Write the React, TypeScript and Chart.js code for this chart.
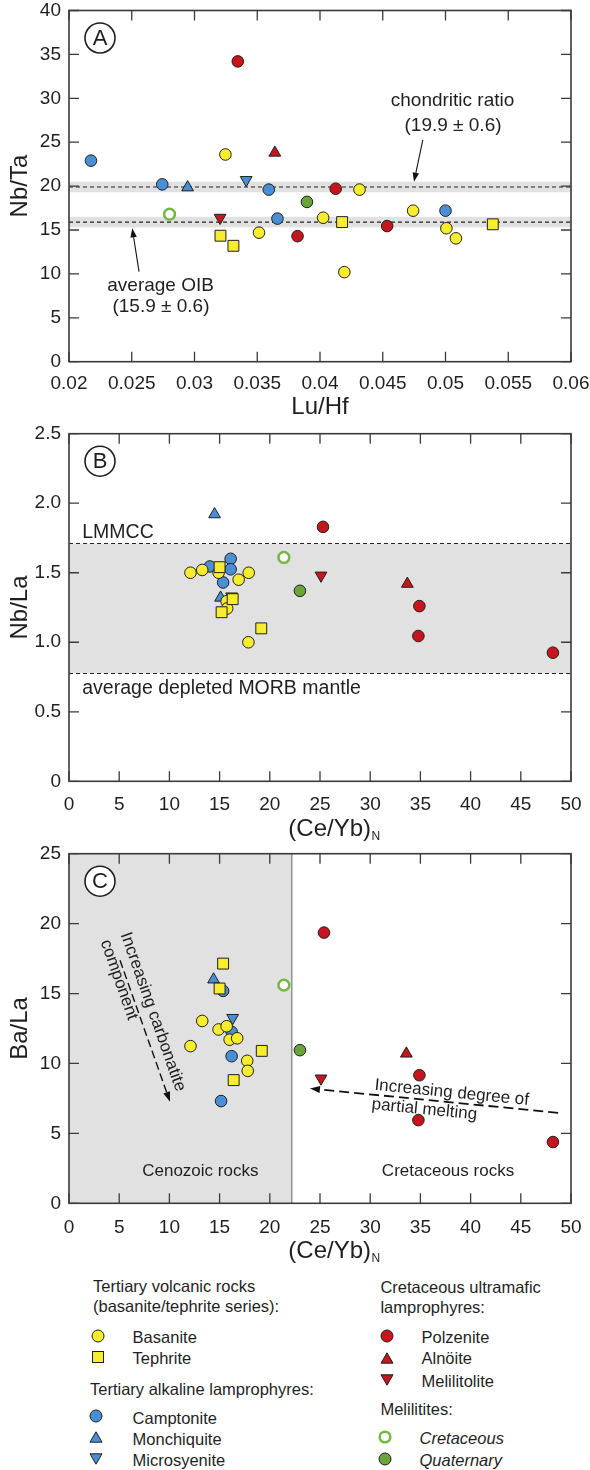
import React, { useEffect, useRef } from "react";
import { Chart, registerables } from "chart.js";

Chart.register(...registerables);

const FONT = "'Liberation Sans', Arial, Helvetica, sans-serif";
const INK = "#1f1f1f";
const AXIS = "#3a3a3a";
const SHADE = "#e1e1e1";
const YELLOW = "#f8ec2e";
const BLUE = "#4a8fd6";
const RED = "#c4161c";
const GREEN = "#6aa53a";
const RING = "#72b843";

// ---------------- Data ----------------
type P = [number, number];

// Panel A: Lu/Hf (x) vs Nb/Ta (y)
const A_X_TICKS = [0.02, 0.025, 0.03, 0.035, 0.04, 0.045, 0.05, 0.055, 0.06];
const A_X_LABELS = ["0.02", "0.025", "0.03", "0.035", "0.04", "0.045", "0.05", "0.055", "0.06"];
const A_Y_TICKS = [0, 5, 10, 15, 20, 25, 30, 35, 40];
const A_Y_LABELS = ["0", "5", "10", "15", "20", "25", "30", "35", "40"];

const A_BASANITE: P[] = [[0.03246, 23.6], [0.04315, 19.6], [0.03514, 14.7], [0.04025, 16.4], [0.04194, 10.2], [0.04742, 17.2], [0.05007, 15.2], [0.05083, 14.05]];
const A_TEPHRITE: P[] = [[0.03207, 14.35], [0.0331, 13.2], [0.04176, 15.9], [0.05377, 15.65]];
const A_CAMPTONITE: P[] = [[0.02175, 22.9], [0.02743, 20.2], [0.03592, 19.6], [0.03661, 16.3], [0.05, 17.2]];
const A_MONCHIQUITE: P[] = [[0.02945, 19.85]];
const A_MICROSYENITE: P[] = [[0.03412, 20.7]];
const A_POLZENITE: P[] = [[0.03345, 34.2], [0.04125, 19.7], [0.03821, 14.3], [0.04535, 15.45]];
const A_ALNOITE: P[] = [[0.0364, 23.8]];
const A_MELILITOLITE: P[] = [[0.03204, 16.4]];
const A_MEL_CRETACEOUS: P[] = [[0.02801, 16.8]];
const A_MEL_QUATERNARY: P[] = [[0.03896, 18.2]];

const CHONDRITIC_RATIO = [19.9, 0.6];
const OIB_RATIO = [15.9, 0.6];

// Panels B and C: (Ce/Yb)N (x)
const CE_TICKS = [0, 5, 10, 15, 20, 25, 30, 35, 40, 45, 50];
const CE_LABELS = ["0", "5", "10", "15", "20", "25", "30", "35", "40", "45", "50"];

// Panel B: Nb/La
const B_Y_TICKS = [0, 0.5, 1, 1.5, 2, 2.5];
const B_Y_LABELS = ["0", "0.5", "1.0", "1.5", "2.0", "2.5"];

const B_BASANITE: P[] = [[12.1, 1.5], [13.27, 1.52], [14.9, 1.5], [16.9, 1.45], [17.9, 1.5], [15.7, 1.295], [15.75, 1.243], [17.87, 1.0]];
const B_TEPHRITE: P[] = [[15.0, 1.54], [16.3, 1.31], [15.2, 1.216], [19.15, 1.1]];
const B_CAMPTONITE: P[] = [[14.03, 1.545], [16.1, 1.6], [16.1, 1.525], [15.35, 1.43]];
const B_MONCHIQUITE: P[] = [[14.5, 1.92], [15.1, 1.32]];
const B_MICROSYENITE: P[] = [[16.2, 1.33]];
const B_POLZENITE: P[] = [[25.3, 1.83], [34.9, 1.26], [34.8, 1.045], [48.2, 0.925]];
const B_ALNOITE: P[] = [[33.7, 1.42]];
const B_MELILITOLITE: P[] = [[25.1, 1.48]];
const B_MEL_CRETACEOUS: P[] = [[21.4, 1.61]];
const B_MEL_QUATERNARY: P[] = [[23.0, 1.37]];

const LMMCC_NB_LA = 1.71;
const DMM_NB_LA = 0.775;

// Panel C: Ba/La
const C_Y_TICKS = [0, 5, 10, 15, 20, 25];
const C_Y_LABELS = ["0", "5", "10", "15", "20", "25"];

const C_BASANITE: P[] = [[13.27, 13.04], [12.1, 11.24], [14.9, 12.43], [15.7, 12.66], [16.0, 11.7], [16.75, 11.8], [17.75, 10.19], [17.8, 9.47]];
const C_TEPHRITE: P[] = [[15.35, 17.14], [15.0, 15.36], [19.2, 10.9], [16.4, 8.81]];
const C_CAMPTONITE: P[] = [[15.35, 15.19], [16.2, 12.26], [16.2, 10.52], [15.15, 7.31]];
const C_MONCHIQUITE: P[] = [[14.4, 16.0]];
const C_MICROSYENITE: P[] = [[16.3, 13.26]];
const C_POLZENITE: P[] = [[25.4, 19.36], [34.9, 9.16], [34.8, 5.95], [48.2, 4.38]];
const C_ALNOITE: P[] = [[33.6, 10.7]];
const C_MELILITOLITE: P[] = [[25.1, 8.93]];
const C_MEL_CRETACEOUS: P[] = [[21.4, 15.6]];
const C_MEL_QUATERNARY: P[] = [[23.0, 10.95]];

const CENOZOIC_MAX_CEYB = 22.2;

// ---------------- Styles ----------------
const STYLE: Record<string, any> = {
  basanite: { shape: "circle", r: 5.8, fill: YELLOW, stroke: INK, bw: 1, rot: 0 },
  tephrite: { shape: "rect", r: 7.7, fill: YELLOW, stroke: INK, bw: 1, rot: 0 },
  camptonite: { shape: "circle", r: 5.8, fill: BLUE, stroke: INK, bw: 1, rot: 0 },
  monchiquite: { shape: "triangle", r: 6.8, fill: BLUE, stroke: INK, bw: 1, rot: 0 },
  microsyenite: { shape: "triangle", r: 6.8, fill: BLUE, stroke: INK, bw: 1, rot: 180 },
  polzenite: { shape: "circle", r: 5.8, fill: RED, stroke: INK, bw: 1, rot: 0 },
  alnoite: { shape: "triangle", r: 6.8, fill: RED, stroke: INK, bw: 1, rot: 0 },
  melilitolite: { shape: "triangle", r: 6.8, fill: RED, stroke: INK, bw: 1, rot: 180 },
  cretaceous: { shape: "circle", r: 5.4, fill: "#ffffff", stroke: RING, bw: 2.5, rot: 0 },
  quaternary: { shape: "circle", r: 5.8, fill: GREEN, stroke: INK, bw: 1, rot: 0 },
};

function ds(points: P[], kind: string) {
  const s = STYLE[kind];
  return {
    label: kind,
    data: points.map(([x, y]) => ({ x, y })),
    pointStyle: s.shape,
    pointRadius: s.r,
    pointRotation: s.rot,
    backgroundColor: s.fill,
    borderColor: s.stroke,
    borderWidth: s.bw,
    showLine: false,
    clip: false,
  };
}

function panelDatasets(g: Record<string, P[]>) {
  const order = ["cretaceous", "quaternary", "polzenite", "alnoite", "melilitolite", "tephrite", "basanite", "camptonite", "monchiquite", "microsyenite"];
  return order.map((k) => ds(g[k], k));
}

// ---------------- Layout ----------------
const W = 590;
const LEFT = 69;
const RIGHT = 571;
const TICK = 10;

// ---------------- Drawing helpers ----------------
function label(ctx: any, s: string, x: number, y: number, size: number, align = "center", italic = false) {
  ctx.save();
  ctx.fillStyle = INK;
  ctx.font = `${italic ? "italic " : ""}${size}px ${FONT}`;
  ctx.textAlign = align;
  ctx.textBaseline = "middle";
  ctx.fillText(s, x, y);
  ctx.restore();
}

function arrow(ctx: any, x1: number, y1: number, x2: number, y2: number, o: any = {}) {
  const head = o.head ?? 9;
  const wid = o.width ?? 6.5;
  const ang = Math.atan2(y2 - y1, x2 - x1);
  const bx = x2 - Math.cos(ang) * head;
  const by = y2 - Math.sin(ang) * head;
  ctx.save();
  ctx.strokeStyle = "#111";
  ctx.fillStyle = "#111";
  ctx.lineWidth = o.lw ?? 1.1;
  ctx.setLineDash(o.dash ?? []);
  ctx.beginPath();
  ctx.moveTo(x1, y1);
  ctx.lineTo(bx, by);
  ctx.stroke();
  ctx.setLineDash([]);
  ctx.beginPath();
  ctx.moveTo(x2, y2);
  ctx.lineTo(bx + Math.sin(ang) * wid / 2, by - Math.cos(ang) * wid / 2);
  ctx.lineTo(bx - Math.sin(ang) * wid / 2, by + Math.cos(ang) * wid / 2);
  ctx.closePath();
  ctx.fill();
  ctx.restore();
}

function dashed(ctx: any, x1: number, y1: number, x2: number, y2: number) {
  ctx.save();
  ctx.strokeStyle = "#222";
  ctx.lineWidth = 1.1;
  ctx.setLineDash([4, 3]);
  ctx.beginPath();
  ctx.moveTo(x1, y1);
  ctx.lineTo(x2, y2);
  ctx.stroke();
  ctx.restore();
}

function frameAndTicks(chart: any, xTicks: number[], yTicks: number[]) {
  const { ctx, chartArea: { left, right, top, bottom }, scales: { x, y } } = chart;
  ctx.save();
  ctx.strokeStyle = AXIS;
  ctx.lineWidth = 1.3;
  ctx.beginPath();
  for (const v of xTicks) {
    const p = x.getPixelForValue(v);
    ctx.moveTo(p, bottom);
    ctx.lineTo(p, bottom - TICK);
    ctx.moveTo(p, top);
    ctx.lineTo(p, top + TICK);
  }
  for (const v of yTicks) {
    const p = y.getPixelForValue(v);
    ctx.moveTo(left, p);
    ctx.lineTo(left + TICK, p);
    ctx.moveTo(right, p);
    ctx.lineTo(right - TICK, p);
  }
  ctx.stroke();
  ctx.lineWidth = 1.6;
  ctx.strokeRect(left, top, right - left, bottom - top);
  ctx.restore();
}

function letterBadge(chart: any, letter: string) {
  const { ctx, chartArea: { left, top } } = chart;
  const cx = left + 31;
  const cy = top + 27.5;
  ctx.save();
  ctx.beginPath();
  ctx.arc(cx, cy, 15, 0, Math.PI * 2);
  ctx.fillStyle = "#fff";
  ctx.fill();
  ctx.lineWidth = 1.6;
  ctx.strokeStyle = INK;
  ctx.stroke();
  ctx.fillStyle = INK;
  ctx.font = `22px ${FONT}`;
  ctx.textAlign = "center";
  ctx.textBaseline = "middle";
  ctx.fillText(letter, cx, cy + 1);
  ctx.restore();
}

function ceybTitle(chart: any, baseline: number) {
  const { ctx } = chart;
  ctx.save();
  ctx.fillStyle = INK;
  ctx.textBaseline = "alphabetic";
  ctx.textAlign = "left";
  ctx.font = `24px ${FONT}`;
  const main = "(Ce/Yb)";
  const w1 = ctx.measureText(main).width;
  ctx.font = `12px ${FONT}`;
  const w2 = ctx.measureText("N").width;
  const x0 = 334 - (w1 + w2) / 2;
  ctx.font = `24px ${FONT}`;
  ctx.fillText(main, x0, baseline);
  ctx.font = `12px ${FONT}`;
  ctx.fillText("N", x0 + w1 + 0.5, baseline + 4.5);
  ctx.restore();
}

// ---------------- Chart config ----------------
function makeConfig(p: any) {
  const plotTopL = p.plotTop - p.canvasTop;
  const plotBottomL = p.plotBottom - p.canvasTop;
  const tickFont = { family: FONT, size: 19 };
  const plugin = {
    id: "panel" + p.letter,
    beforeDatasetsDraw(chart: any) {
      if (p.before) p.before(chart);
    },
    afterDatasetsDraw(chart: any) {
      frameAndTicks(chart, p.xTicks, p.yTicks);
      letterBadge(chart, p.letter);
      if (p.after) p.after(chart);
    },
  };
  return {
    type: "scatter",
    data: { datasets: p.datasets },
    options: {
      responsive: false,
      animation: false,
      events: [],
      layout: { padding: { left: 0, right: W - RIGHT, top: plotTopL, bottom: 0 } },
      plugins: { legend: { display: false }, tooltip: { enabled: false } },
      scales: {
        x: {
          type: "linear",
          position: "bottom",
          min: p.xMin,
          max: p.xMax,
          grid: { display: false, drawTicks: false },
          border: { display: false },
          afterBuildTicks: (s: any) => {
            s.ticks = p.xTicks.map((v: number) => ({ value: v }));
          },
          afterFit: (s: any) => {
            s.height = p.canvasH - plotBottomL;
            s.paddingLeft = 0;
            s.paddingRight = 0;
          },
          ticks: {
            autoSkip: false,
            maxRotation: 0,
            minRotation: 0,
            padding: p.xGap,
            color: INK,
            font: tickFont,
            callback: (_v: any, i: number) => p.xLabels[i],
          },
          title: p.xTitle
            ? { display: true, text: p.xTitle, color: INK, font: { family: FONT, size: 24, lineHeight: 1 }, padding: { top: 0, bottom: p.xTitlePad } }
            : { display: false },
        },
        y: {
          type: "linear",
          position: "left",
          min: p.yMin,
          max: p.yMax,
          grid: { display: false, drawTicks: false },
          border: { display: false },
          afterBuildTicks: (s: any) => {
            s.ticks = p.yTicks.map((v: number) => ({ value: v }));
          },
          afterFit: (s: any) => {
            s.width = LEFT;
            s.paddingTop = 0;
            s.paddingBottom = 0;
          },
          ticks: {
            autoSkip: false,
            padding: 8,
            color: INK,
            font: tickFont,
            callback: (_v: any, i: number) => p.yLabels[i],
          },
          title: { display: true, text: p.yTitle, color: INK, font: { family: FONT, size: 24, lineHeight: 1 }, padding: { top: 8, bottom: 0 } },
        },
      },
    },
    plugins: [plugin],
  };
}

const PANEL_A = {
  letter: "A", canvasTop: 0, canvasH: 425, plotTop: 10.5, plotBottom: 361.7, xGap: 11.1,
  xMin: 0.02, xMax: 0.06, yMin: 0, yMax: 40,
  xTicks: A_X_TICKS, xLabels: A_X_LABELS, yTicks: A_Y_TICKS, yLabels: A_Y_LABELS,
  xTitle: "Lu/Hf", xTitlePad: 6, yTitle: "Nb/Ta",
  datasets: panelDatasets({
    basanite: A_BASANITE, tephrite: A_TEPHRITE, camptonite: A_CAMPTONITE, monchiquite: A_MONCHIQUITE,
    microsyenite: A_MICROSYENITE, polzenite: A_POLZENITE, alnoite: A_ALNOITE, melilitolite: A_MELILITOLITE,
    cretaceous: A_MEL_CRETACEOUS, quaternary: A_MEL_QUATERNARY,
  }),
  before: (chart: any) => {
    const { ctx, chartArea: { left, right }, scales: { y } } = chart;
    for (const [c, e] of [CHONDRITIC_RATIO, OIB_RATIO]) {
      const y1 = y.getPixelForValue(c + e);
      const y2 = y.getPixelForValue(c - e);
      ctx.save();
      ctx.fillStyle = SHADE;
      ctx.fillRect(left, y1, right - left, y2 - y1);
      ctx.restore();
      dashed(ctx, left, y.getPixelForValue(c), right, y.getPixelForValue(c));
    }
  },
  after: (chart: any) => {
    const { ctx, scales: { x, y } } = chart;
    const X = (v: number) => x.getPixelForValue(v);
    const Y = (v: number) => y.getPixelForValue(v);
    label(ctx, "chondritic ratio", X(0.05056), Y(29.73), 19);
    label(ctx, `(${CHONDRITIC_RATIO[0]} ± ${CHONDRITIC_RATIO[1]})`, X(0.0506), Y(26.9), 19);
    arrow(ctx, X(0.04819), Y(25.25), X(0.04749), Y(20.5));
    label(ctx, "average OIB", X(0.0273), Y(8.62), 19);
    label(ctx, `(${OIB_RATIO[0]} ± ${OIB_RATIO[1]})`, X(0.02733), Y(6.26), 19);
    arrow(ctx, X(0.02558), Y(10.25), X(0.02504), Y(15.19));
  },
};

const PANEL_B = {
  letter: "B", canvasTop: 425, canvasH: 420, plotTop: 431, plotBottom: 781.3, xGap: 11.8,
  xMin: 0, xMax: 50, yMin: 0, yMax: 2.5,
  xTicks: CE_TICKS, xLabels: CE_LABELS, yTicks: B_Y_TICKS, yLabels: B_Y_LABELS,
  yTitle: "Nb/La",
  datasets: panelDatasets({
    basanite: B_BASANITE, tephrite: B_TEPHRITE, camptonite: B_CAMPTONITE, monchiquite: B_MONCHIQUITE,
    microsyenite: B_MICROSYENITE, polzenite: B_POLZENITE, alnoite: B_ALNOITE, melilitolite: B_MELILITOLITE,
    cretaceous: B_MEL_CRETACEOUS, quaternary: B_MEL_QUATERNARY,
  }),
  before: (chart: any) => {
    const { ctx, chartArea: { left, right }, scales: { y } } = chart;
    const y1 = y.getPixelForValue(LMMCC_NB_LA);
    const y2 = y.getPixelForValue(DMM_NB_LA);
    ctx.save();
    ctx.fillStyle = SHADE;
    ctx.fillRect(left, y1, right - left, y2 - y1);
    ctx.restore();
    dashed(ctx, left, y1, right, y1);
    dashed(ctx, left, y2, right, y2);
  },
  after: (chart: any) => {
    const { ctx, scales: { x, y } } = chart;
    label(ctx, "LMMCC", x.getPixelForValue(1.32), y.getPixelForValue(1.79), 19.5, "left");
    label(ctx, "average depleted MORB mantle", x.getPixelForValue(1.32), y.getPixelForValue(0.67), 19.5, "left");
    ceybTitle(chart, 835.5 - 425);
  },
};

const PANEL_C = {
  letter: "C", canvasTop: 845, canvasH: 425, plotTop: 853.3, plotBottom: 1203.3, xGap: 13,
  xMin: 0, xMax: 50, yMin: 0, yMax: 25,
  xTicks: CE_TICKS, xLabels: CE_LABELS, yTicks: C_Y_TICKS, yLabels: C_Y_LABELS,
  yTitle: "Ba/La",
  datasets: panelDatasets({
    basanite: C_BASANITE, tephrite: C_TEPHRITE, camptonite: C_CAMPTONITE, monchiquite: C_MONCHIQUITE,
    microsyenite: C_MICROSYENITE, polzenite: C_POLZENITE, alnoite: C_ALNOITE, melilitolite: C_MELILITOLITE,
    cretaceous: C_MEL_CRETACEOUS, quaternary: C_MEL_QUATERNARY,
  }),
  before: (chart: any) => {
    const { ctx, chartArea: { left, top, bottom }, scales: { x } } = chart;
    const xr = x.getPixelForValue(CENOZOIC_MAX_CEYB);
    ctx.save();
    ctx.fillStyle = SHADE;
    ctx.fillRect(left, top, xr - left, bottom - top);
    ctx.strokeStyle = "#666";
    ctx.lineWidth = 1;
    ctx.beginPath();
    ctx.moveTo(xr, top);
    ctx.lineTo(xr, bottom);
    ctx.stroke();
    ctx.restore();
  },
  after: (chart: any) => {
    const { ctx, scales: { x, y } } = chart;
    const X = (v: number) => x.getPixelForValue(v);
    const Y = (v: number) => y.getPixelForValue(v);
    label(ctx, "Cenozoic rocks", X(13.08), Y(2.31), 17);
    label(ctx, "Cretaceous rocks", X(37.75), Y(2.31), 17);

    // carbonatite arrow
    const sx = X(5.08), sy = Y(17.38), tx = X(10.06), ty = Y(7.26);
    arrow(ctx, sx, sy, tx, ty, { dash: [8, 4], lw: 1.4, head: 10, width: 7 });
    const a1 = Math.atan2(ty - sy, tx - sx);
    ctx.save();
    ctx.translate(sx, sy);
    ctx.rotate(a1);
    ctx.fillStyle = INK;
    ctx.font = `17px ${FONT}`;
    ctx.textAlign = "left";
    ctx.textBaseline = "middle";
    ctx.fillText("Increasing carbonatite", -24, -13.8);
    ctx.fillText("component", -24, 7.6);
    ctx.restore();

    // partial melting arrow
    const hx = X(24.0), hy = Y(8.21), ex = X(48.72), ey = Y(6.47);
    arrow(ctx, ex, ey, hx, hy, { dash: [10, 5], lw: 1.8, head: 10, width: 7 });
    const a2 = Math.atan2(ey - hy, ex - hx);
    ctx.save();
    ctx.translate(hx, hy);
    ctx.rotate(a2);
    ctx.fillStyle = INK;
    ctx.font = `17px ${FONT}`;
    ctx.textAlign = "left";
    ctx.textBaseline = "middle";
    ctx.fillText("Increasing degree of", 64, -9.6);
    ctx.fillText("partial melting", 63, 9.8);
    ctx.restore();

    ceybTitle(chart, 1257.5 - 845);
  },
};

function Panel({ cfg }: { cfg: any }) {
  const ref = useRef<HTMLCanvasElement>(null);
  useEffect(() => {
    const chart = new Chart(ref.current as HTMLCanvasElement, makeConfig(cfg) as any);
    return () => chart.destroy();
  }, []);
  return (
    <canvas
      ref={ref}
      width={W}
      height={cfg.canvasH}
      style={{ position: "absolute", left: 0, top: cfg.canvasTop, width: W, height: cfg.canvasH }}
    />
  );
}

// ---------------- Legend ----------------
function Marker({ kind, x, y }: { kind: string; x: number; y: number }) {
  const s = STYLE[kind];
  let shape: any;
  if (s.shape === "circle") {
    shape = <circle cx={9} cy={9} r={kind === "cretaceous" ? 5.3 : 6} fill={s.fill} stroke={s.stroke} strokeWidth={s.bw} />;
  } else if (s.shape === "rect") {
    shape = <rect x={3.5} y={3.5} width={11} height={11} fill={s.fill} stroke={s.stroke} strokeWidth={1} />;
  } else if (s.rot === 0) {
    shape = <polygon points="9,3.8 15,14.2 3,14.2" fill={s.fill} stroke={s.stroke} strokeWidth={1} />;
  } else {
    shape = <polygon points="9,14.2 15,3.8 3,3.8" fill={s.fill} stroke={s.stroke} strokeWidth={1} />;
  }
  return (
    <svg width={18} height={18} style={{ position: "absolute", left: x - 9, top: y - 9 }}>
      {shape}
    </svg>
  );
}

function LText({ text, x, y, italic }: { text: string; x: number; y: number; italic?: boolean }) {
  return (
    <div
      style={{
        position: "absolute",
        left: x,
        top: y - 10,
        height: 20,
        lineHeight: "20px",
        fontSize: 16.5,
        fontFamily: FONT,
        fontStyle: italic ? "italic" : "normal",
        color: INK,
        whiteSpace: "nowrap",
      }}
    >
      {text}
    </div>
  );
}

function Legend() {
  return (
    <>
      <LText text="Tertiary volcanic rocks" x={93} y={1286} />
      <LText text="(basanite/tephrite series):" x={93} y={1305.5} />
      <Marker kind="basanite" x={98.2} y={1335.5} />
      <LText text="Basanite" x={132.6} y={1337} />
      <Marker kind="tephrite" x={98.2} y={1356.7} />
      <LText text="Tephrite" x={132.6} y={1358} />
      <LText text="Tertiary alkaline lamprophyres:" x={90} y={1389} />
      <Marker kind="camptonite" x={96.3} y={1416} />
      <LText text="Camptonite" x={132.6} y={1418} />
      <Marker kind="monchiquite" x={96.3} y={1437.2} />
      <LText text="Monchiquite" x={132.6} y={1438.5} />
      <Marker kind="microsyenite" x={96.3} y={1459.2} />
      <LText text="Microsyenite" x={132.6} y={1459.5} />

      <LText text="Cretaceous ultramafic" x={380.4} y={1287.3} />
      <LText text="lamprophyres:" x={380.4} y={1307} />
      <Marker kind="polzenite" x={386.8} y={1335.7} />
      <LText text="Polzenite" x={421.5} y={1337} />
      <Marker kind="alnoite" x={386.8} y={1358} />
      <LText text="Alnöite" x={421.5} y={1358} />
      <Marker kind="melilitolite" x={386.8} y={1380.3} />
      <LText text="Melilitolite" x={421.5} y={1380.5} />
      <LText text="Melilitites:" x={380.4} y={1409} />
      <Marker kind="cretaceous" x={385} y={1436.7} />
      <LText text="Cretaceous" x={419.5} y={1437.5} italic />
      <Marker kind="quaternary" x={385} y={1459} />
      <LText text="Quaternary" x={419.5} y={1459.5} italic />
    </>
  );
}

export default function App() {
  return (
    <div style={{ position: "absolute", left: 0, top: 0, width: W, height: 1470, background: "#fff", overflow: "hidden" }}>
      <Panel cfg={PANEL_A} />
      <Panel cfg={PANEL_B} />
      <Panel cfg={PANEL_C} />
      <Legend />
    </div>
  );
}
